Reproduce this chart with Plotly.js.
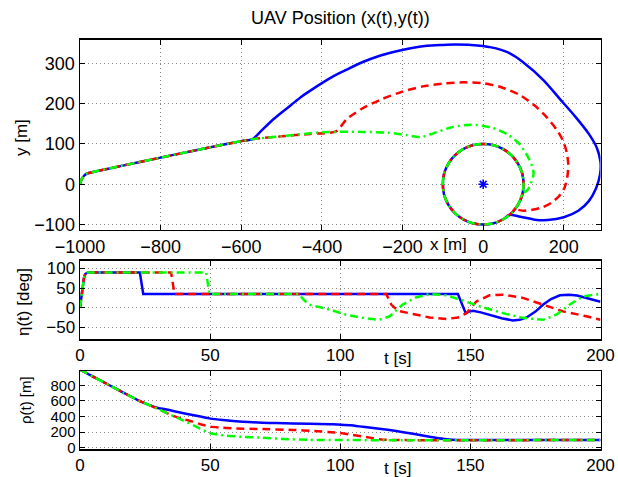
<!DOCTYPE html>
<html>
<head>
<meta charset="utf-8">
<script src="https://cdn.plot.ly/plotly-3.0.1.min.js"></script>
<style>html,body{margin:0;padding:0;background:#fff}#chart{width:618px;height:477px}</style>
</head>
<body>
<div id="chart"></div>
<script>
// ---------- Top plot: UAV position (x,y) [m] ----------
// common approach path (all three UAV runs)
const approachX = [-1000, -996, -990, -982, -965, -900, -800, -700, -600, -572];
const approachY = [0, 12, 21, 27, 31, 45, 66, 87, 107, 112];
// individual tails before joining the loiter circle
const blueTailX = [-550, -525, -500, -475, -450, -425, -400, -370, -340, -300, -260, -220, -180, -140, -100, -70, -30, 20, 60, 99, 150, 190, 230, 262, 282, 291, 290, 280, 262, 236, 200, 160, 128, 98, 65];
const blueTailY = [133, 157, 178, 198, 218, 235, 251, 269, 284, 303, 318, 329, 338, 344, 346, 347, 346, 340, 328, 303, 258, 212, 166, 125, 90, 55, 25, -10, -42, -66, -82, -89, -88, -82, -76];
const redTailX = [-500, -430, -365, -338, -300, -250, -200, -150, -100, -50, 0, 45, 90, 127, 158, 182, 198, 207, 211, 209, 202, 188, 169, 148, 125, 100, 78];
const redTailY = [119, 125, 131, 162, 188, 212, 230, 243, 250, 253, 251, 241, 222, 196, 166, 136, 108, 80, 50, 20, -8, -30, -46, -57, -63, -66, -63];
const greenTailX = [-500, -400, -300, -236, -190, -154, -122, -80, -30, 20, 61, 90, 110, 123, 125, 123, 111, 97];
const greenTailY = [119, 129, 130, 128, 122, 117, 127, 141, 148, 141, 123, 100, 70, 40, 28, 16, -13, -25];
// loiter circle (read points, clockwise from (100,0))
const loiterX = [100, 97, 87, 71, 50, 26, 0, -26, -50, -71, -87, -97, -100, -97, -87, -71, -50, -26, 0, 26, 50, 71, 87, 97, 100];
const loiterY = [0, -26, -50, -71, -87, -97, -100, -97, -87, -71, -50, -26, 0, 26, 50, 71, 87, 97, 100, 97, 87, 71, 50, 26, 0];
const targetX = [0];
const targetY = [0];
// index where each run joins the circle
const joinIndex = {blue: 4, red: 3, green: 2};

// ---------- Middle plot: eta(t) [deg] ----------
const riseT = [0, 0.5, 1, 1.5, 2, 2.5, 3];
const riseEta = [0, 30, 55, 75, 86, 89, 90];
const blueEtaT = [23, 24.3, 145.2, 148.2, 149.5, 151, 154, 157.4, 162, 166.3, 169, 171.6, 175, 178, 181, 184.4, 188, 191, 194.6, 197, 200];
const blueEta = [90, 35, 35, -14, -10, -8, -12, -18, -27, -32.5, -31, -25, -10, 8, 22, 31.5, 33, 31, 25, 20, 15];
const redEtaT = [35, 36.3, 117.7, 119.6, 122.2, 127.9, 134.3, 140.8, 145.2, 148.5, 152.3, 157.4, 162.5, 170.2, 178, 185.6, 194.6, 200];
const redEta = [90, 35, 35, 8, -8, -16, -25, -29, -25, -14, 16, 31.5, 33, 25, 8, -9.5, -22, -31];
const greenEtaT = [48.5, 49.7, 84, 86, 88, 92, 96, 102.3, 108.7, 115, 119, 124, 129, 134.3, 140.8, 147.2, 153.6, 162.5, 170.2, 178, 183, 188.2, 193.3, 200];
const greenEta = [90, 35, 35, 20, 8, 2, -5, -18, -26, -31, -22, 8, 26, 35, 31.5, 18, 3.5, -14, -26, -31, -18, 8, 29, 35];

// ---------- Bottom plot: rho(t) [m] ----------
const rhoCommonT = [0, 5, 11.3, 17, 22.8, 26.7];
const rhoCommon = [1000, 910, 800, 700, 600, 546];
const blueRhoT = [30, 34.3, 38, 43.3, 49.7, 55, 62.5, 70, 75.4, 88.2, 96, 99, 104, 108.7, 115, 121.5, 128, 134.3, 140, 145.2, 147, 200];
const blueRho = [510, 483, 455, 419, 377, 355, 334, 322, 317, 309, 302, 300, 288, 269, 245, 215, 180, 143, 115, 100, 100, 100];
const redRhoT = [30, 36, 40, 43.3, 47, 50, 55, 60, 69, 81.8, 90, 99, 104.9, 111.3, 116.4, 121.5, 200];
const redRho = [497, 405, 365, 335, 295, 272, 256, 248, 241, 229, 215, 194, 165, 131, 105, 100, 100];
const greenRhoT = [30, 35, 40, 45, 49.7, 55, 62, 69, 78, 88.2, 200];
const greenRho = [497, 420, 345, 265, 190, 160, 142, 131, 115, 102, 100];

// ---------- build traces ----------
const BLUE = '#0000ff', RED = '#ff0000', GREEN = '#00ff00';
const LW = 2.5;
const DASH = {blue: 'solid', red: '8px,5px', green: '8px,4px,2px,4px'};
const COL = {blue: BLUE, red: RED, green: GREEN};

function loop(k, arr) { return arr.slice(k).concat(arr.slice(1, k + 1)); }
const tails = {
  blue: [blueTailX, blueTailY],
  red: [redTailX, redTailY],
  green: [greenTailX, greenTailY]
};
const traces = [];
['blue', 'red', 'green'].forEach(c => {
  const k = joinIndex[c];
  traces.push({
    x: approachX.concat(tails[c][0], loop(k, loiterX)),
    y: approachY.concat(tails[c][1], loop(k, loiterY)),
    xaxis: 'x', yaxis: 'y', mode: 'lines',
    line: {color: COL[c], width: LW, dash: DASH[c], shape: 'spline', smoothing: 0.7},
    hoverinfo: 'skip'
  });
});
traces.push({
  x: targetX, y: targetY, xaxis: 'x', yaxis: 'y', mode: 'markers',
  marker: {symbol: 'asterisk-open', size: 8, color: BLUE, line: {color: BLUE, width: 1.6}},
  hoverinfo: 'skip'
});
const etaSeries = {
  blue: [blueEtaT, blueEta], red: [redEtaT, redEta], green: [greenEtaT, greenEta]
};
['blue', 'red', 'green'].forEach(c => {
  traces.push({
    x: riseT.concat(etaSeries[c][0]), y: riseEta.concat(etaSeries[c][1]),
    xaxis: 'x2', yaxis: 'y2', mode: 'lines',
    line: {color: COL[c], width: LW, dash: DASH[c]}, hoverinfo: 'skip'
  });
});
const rhoSeries = {
  blue: [blueRhoT, blueRho], red: [redRhoT, redRho], green: [greenRhoT, greenRho]
};
['blue', 'red', 'green'].forEach(c => {
  traces.push({
    x: rhoCommonT.concat(rhoSeries[c][0]), y: rhoCommon.concat(rhoSeries[c][1]),
    xaxis: 'x3', yaxis: 'y3', mode: 'lines',
    line: {color: COL[c], width: LW, dash: DASH[c], shape: 'spline', smoothing: 0.5},
    hoverinfo: 'skip'
  });
});

// ---------- layout ----------
const W = 618, H = 477;
const FONT = 'Liberation Sans, Arial, Helvetica, sans-serif';
function ax(extra, size) {
  return Object.assign({
    showline: true, linecolor: '#000', linewidth: 1.5, mirror: 'ticks',
    ticks: 'inside', ticklen: 5, tickwidth: 1, tickcolor: '#000',
    showgrid: true, gridcolor: '#8a8a8a', gridwidth: 1, griddash: '1px,3px',
    zeroline: false, fixedrange: true,
    tickfont: {family: FONT, size: size, color: '#000'}
  }, extra);
}
const xDom = [80 / W, 600.5 / W];
const layout = {
  width: W, height: H,
  margin: {l: 0, r: 0, t: 0, b: 0},
  paper_bgcolor: '#fff', plot_bgcolor: '#fff',
  showlegend: false,
  xaxis: ax({domain: xDom, anchor: 'y', range: [-1000, 291], tickvals: [-1000, -800, -600, -400, -200, 0, 200]}, 18),
  yaxis: ax({domain: [247.3 / H, 437.3 / H], anchor: 'x', range: [-113, 359], tickvals: [-100, 0, 100, 200, 300]}, 18),
  xaxis2: ax({domain: xDom, anchor: 'y2', range: [0, 200], tickvals: [0, 50, 100, 150, 200]}, 17),
  yaxis2: ax({domain: [138 / H, 216.3 / H], anchor: 'x2', range: [-80, 120], tickvals: [-50, 0, 50, 100]}, 17),
  xaxis3: ax({domain: xDom, anchor: 'y3', range: [0, 200], tickvals: [0, 50, 100, 150, 200]}, 17),
  yaxis3: ax({domain: [27.7 / H, 106 / H], anchor: 'x3', range: [-18, 982], tickvals: [0, 200, 400, 600, 800]}, 15),
  annotations: [
    {text: 'UAV Position (x(t),y(t))', x: 340 / W, y: (H - 18) / H, xref: 'paper', yref: 'paper', showarrow: false, xanchor: 'center', yanchor: 'middle', font: {family: FONT, size: 18, color: '#000'}},
    {text: 'x [m]', x: 448 / W, y: (H - 244) / H, xref: 'paper', yref: 'paper', showarrow: false, xanchor: 'center', yanchor: 'middle', font: {family: FONT, size: 17, color: '#000'}},
    {text: 't [s]', x: 397 / W, y: (H - 358) / H, xref: 'paper', yref: 'paper', showarrow: false, xanchor: 'center', yanchor: 'middle', font: {family: FONT, size: 17, color: '#000'}},
    {text: 't [s]', x: 397 / W, y: (H - 468) / H, xref: 'paper', yref: 'paper', showarrow: false, xanchor: 'center', yanchor: 'middle', font: {family: FONT, size: 17, color: '#000'}},
    {text: 'y [m]', x: 21 / W, y: (H - 138) / H, xref: 'paper', yref: 'paper', showarrow: false, textangle: -90, xanchor: 'center', yanchor: 'middle', font: {family: FONT, size: 17, color: '#000'}},
    {text: 'η(t) [deg]', x: 24 / W, y: (H - 302) / H, xref: 'paper', yref: 'paper', showarrow: false, textangle: -90, xanchor: 'center', yanchor: 'middle', font: {family: FONT, size: 17, color: '#000'}},
    {text: 'ρ(t) [m]', x: 25 / W, y: (H - 400) / H, xref: 'paper', yref: 'paper', showarrow: false, textangle: -90, xanchor: 'center', yanchor: 'middle', font: {family: FONT, size: 15, color: '#000'}}
  ]
};
Plotly.newPlot('chart', traces, layout, {staticPlot: true, displayModeBar: false});
</script>
</body>
</html>
